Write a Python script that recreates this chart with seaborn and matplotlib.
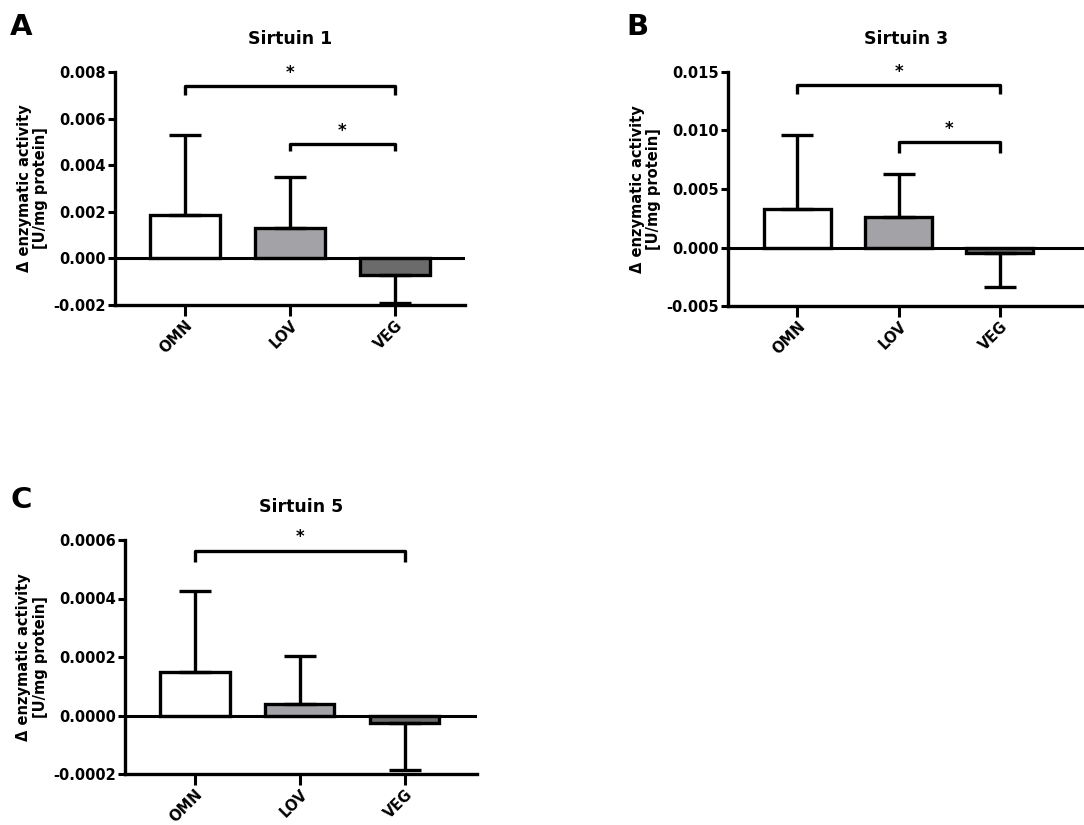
import numpy as np
import pandas as pd
import seaborn as sns
from matplotlib import pyplot as plt
from matplotlib.ticker import FormatStrFormatter

# data (mean, one sided SD)
groups = ["OMN", "LOV", "VEG"]
bar_colors = ["#ffffff", "#a3a3a7", "#6b6b6b"]

sirt1_mean = [0.00185, 0.0013, -0.0007]
sirt1_sd = [0.00345, 0.0022, 0.0012]
sirt3_mean = [0.0033, 0.0026, -0.0005]
sirt3_sd = [0.0063, 0.0037, 0.0029]
sirt5_mean = [0.00015, 0.000038, -0.000024]
sirt5_sd = [0.000274, 0.000167, 0.000164]

# significance brackets: (group a, group b, height, drop)
sirt1_sig = [("OMN", "VEG", 0.0074, 0.0004), ("LOV", "VEG", 0.0049, 0.0003)]
sirt3_sig = [("OMN", "VEG", 0.0139, 0.0008), ("LOV", "VEG", 0.0090, 0.0009)]
sirt5_sig = [("OMN", "VEG", 0.000564, 0.00004)]

sns.set_style("ticks")
plt.rcParams['font.family'] = ['DejaVu Sans']
plt.rcParams['font.weight'] = 'bold'
plt.rcParams['axes.unicode_minus'] = False
for k in ['text.color', 'axes.labelcolor', 'xtick.color', 'ytick.color', 'axes.edgecolor']:
    plt.rcParams[k] = 'black'

W, H = 1084, 825
fig = plt.figure(figsize=(W / 100, H / 100), dpi=100)


def make_panel(box, means, sds, sig, title, ylim, yticks, fmt, xlim):
    left, top, right, bottom = box
    ax = fig.add_axes([left / W, 1 - bottom / H, (right - left) / W, (bottom - top) / H])
    df = pd.DataFrame({"group": groups, "mean": means})
    sns.barplot(data=df, x="group", y="mean", hue="group", palette=bar_colors,
                legend=False, width=0.66, edgecolor="black", linewidth=2.4,
                saturation=1, ax=ax, zorder=2)
    sd = np.array(sds)
    m = np.array(means)
    lower = np.where(m < 0, sd, 0)
    upper = np.where(m >= 0, sd, 0)
    ax.errorbar(np.arange(len(groups)), m, yerr=[lower, upper], fmt="none",
                ecolor="black", elinewidth=2.4, capsize=11.5, capthick=2.4, zorder=3)
    ax.axhline(0, color="black", lw=2.2, zorder=4)
    for a, b, h, d in sig:
        xa, xb = groups.index(a), groups.index(b)
        ax.plot([xa, xa, xb, xb], [h - d, h, h, h - d], color="black", lw=2.4,
                solid_capstyle="butt", clip_on=False)
        ax.annotate("*", ((xa + xb) / 2, h), xytext=(0, 3), textcoords="offset points",
                    ha="center", va="bottom", fontsize=12, fontweight="bold")
    ax.set_xlim(*xlim)
    ax.set_ylim(*ylim)
    ax.set_yticks(yticks)
    ax.yaxis.set_major_formatter(FormatStrFormatter(fmt))
    ax.set_xlabel("")
    ax.set_ylabel("\u0394 enzymatic activity\n[U/mg protein]", fontsize=10.5,
                  fontweight="bold", labelpad=4, linespacing=1.1)
    ax.set_title(title, fontsize=12.5, fontweight="bold", pad=20)
    sns.despine(ax=ax)
    for s in ["left", "bottom"]:
        ax.spines[s].set_linewidth(2.4)
    ax.tick_params(axis="y", length=5, width=2.2, pad=1.5, labelsize=10.5)
    ax.tick_params(axis="x", length=8, width=2.2, pad=1, labelsize=10.5)
    for lab in ax.get_xticklabels():
        lab.set_rotation(45)
        lab.set_ha("right")
        lab.set_rotation_mode("anchor")
        lab.set_fontweight("bold")
    for lab in ax.get_yticklabels():
        lab.set_fontweight("bold")
    return ax


make_panel((115, 72, 465, 305), sirt1_mean, sirt1_sd, sirt1_sig, "Sirtuin 1",
           (-0.002, 0.008), np.arange(-0.002, 0.0081, 0.002), "%.3f", (-0.667, 2.667))
make_panel((728, 72, 1084, 306), sirt3_mean, sirt3_sd, sirt3_sig, "Sirtuin 3",
           (-0.005, 0.015), np.arange(-0.005, 0.0151, 0.005), "%.3f", (-0.683, 2.83))
make_panel((125, 540, 477, 774), sirt5_mean, sirt5_sd, sirt5_sig, "Sirtuin 5",
           (-0.0002, 0.0006), np.arange(-0.0002, 0.00061, 0.0002), "%.4f", (-0.667, 2.69))

fig.text(10 / W, 1 - 35 / H, "A", fontsize=21, fontweight="heavy", va="baseline")
fig.text(626 / W, 1 - 35 / H, "B", fontsize=21, fontweight="heavy", va="baseline")
fig.text(10 / W, 1 - 508 / H, "C", fontsize=21, fontweight="heavy", va="baseline")

plt.savefig("out.png", dpi=100)
